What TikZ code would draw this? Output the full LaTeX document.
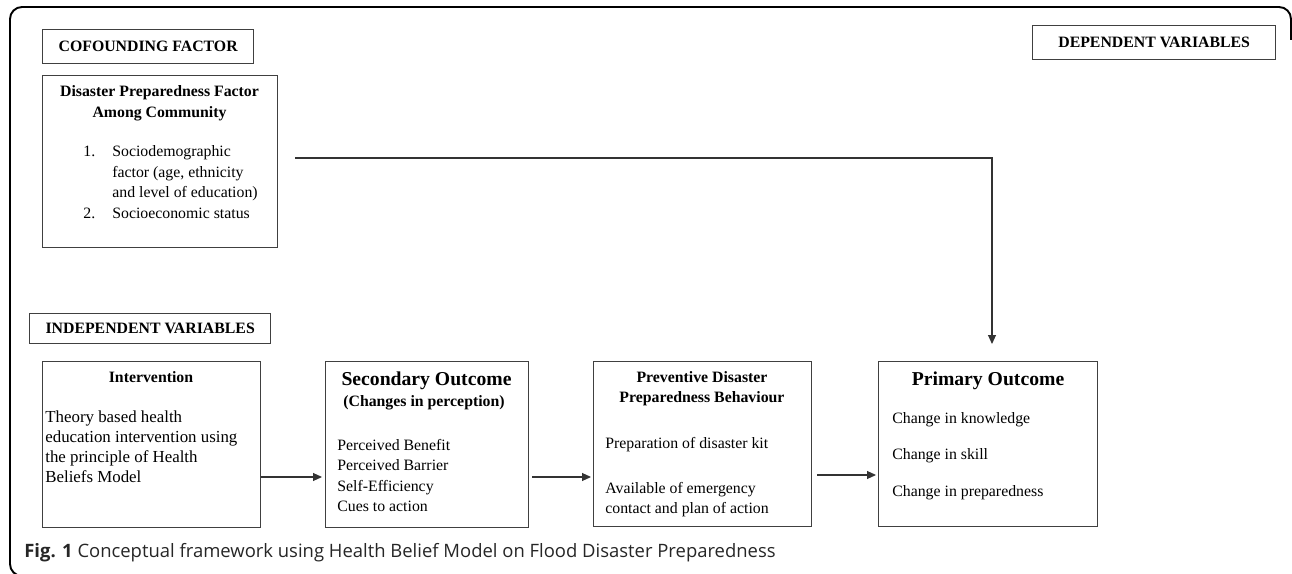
\documentclass[tikz,border=0pt]{standalone}
\usepackage{fontspec}
\setmainfont{Liberation Serif}
\newfontfamily\captionfont{Open Sans}
\usetikzlibrary{arrows.meta}

% stacked lines whose base is the first line
\newcommand{\leftlines}[1]{\begin{tabular}[t]{@{}l@{}}#1\end{tabular}}
\newcommand{\centerlines}[1]{\begin{tabular}[t]{@{}c@{}}#1\end{tabular}}

\tikzset{
  frame/.style={draw=black, line width=1.1pt, rounded corners=0.24cm},
  header/.style={draw=black!75, line width=0.8pt, anchor=north west, inner sep=0pt, font=\fontsize{9}{11}\selectfont\bfseries},
  block/.style={draw=black!75, line width=0.8pt, anchor=north west, inner sep=0pt},
  title/.style={anchor=base, inner sep=0pt, font=\fontsize{9}{11.95}\selectfont\bfseries},
  bigtitle/.style={anchor=base, inner sep=0pt, font=\fontsize{11.2}{13}\selectfont\bfseries},
  body/.style={anchor=base west, inner sep=0pt, font=\fontsize{9}{11.5}\selectfont},
  flow/.style={-{Triangle[length=0.18cm,width=0.16cm]}, line width=0.6pt, draw=black!80},
}

\begin{document}
\begin{tikzpicture}[x=0.02cm, y=-0.02cm]
  \useasboundingbox (0,0) rectangle (1292,574);
  \clip (0,0) rectangle (1292,574);
  \draw[frame] (1291,40) -- (1291,7) -- (10,7) -- (10,576) -- (40,576);

  % header boxes
  \node[header, minimum width=4.22cm, minimum height=0.68cm] (cofound) at (42,29) {COFOUNDING FACTOR};
  \node[header, minimum width=4.86cm, minimum height=0.68cm] (dependent) at (1032,25) {DEPENDENT VARIABLES};
  \node[header, minimum width=4.82cm, minimum height=0.6cm] (independent) at (29,313) {INDEPENDENT VARIABLES};

  % blocks
  \node[block, minimum width=4.7cm, minimum height=3.44cm] (community) at (42,75) {};
  \node[block, minimum width=4.36cm, minimum height=3.32cm] (intervention) at (42,361) {};
  \node[block, minimum width=4.06cm, minimum height=3.32cm] (secondary) at (325,361) {};
  \node[block, minimum width=4.36cm, minimum height=3.3cm] (preventive) at (593,361) {};
  \node[block, minimum width=4.38cm, minimum height=3.3cm] (primary) at (878,361) {};

  % block texts
  \node[title] (communitytitle) at (159.5,97) {\centerlines{Disaster Preparedness Factor\\Among Community}};
  \node[body, font=\fontsize{9}{11.6}\selectfont] (communitylist) at (83,157) {\leftlines{\makebox[0.58cm][l]{1.}Sociodemographic\\\hspace*{0.58cm}factor (age, ethnicity\\\hspace*{0.58cm}and level of education)\\\makebox[0.58cm][l]{2.}Socioeconomic status}};

  \node[title] (interventiontitle) at (151,382) {Intervention};
  \node[body, font=\fontsize{9.6}{11.4}\selectfont] (interventiontext) at (45,422) {\leftlines{Theory based health\\education intervention using\\the principle of Health\\Beliefs Model}};

  \node[bigtitle] (secondarytitle) at (426.5,385) {Secondary Outcome};
  \node[title] (secondarysub) at (424,406) {(Changes in perception)};
  \node[body, font=\fontsize{9}{11.7}\selectfont] (secondarylist) at (337,450) {\leftlines{Perceived Benefit\\Perceived Barrier\\Self-Efficiency\\Cues to action}};

  \node[title] (preventivetitle) at (702,382) {\centerlines{Preventive Disaster\\Preparedness Behaviour}};
  \node[body] (preventivetext) at (605,448) {\leftlines{Preparation of disaster kit\\[14.2pt]Available of emergency\\contact and plan of action}};

  \node[bigtitle] (primarytitle) at (988,385) {Primary Outcome};
  \node[body, font=\fontsize{9}{21}\selectfont] (primarylist) at (892,423) {\leftlines{Change in knowledge\\Change in skill\\Change in preparedness}};

  % caption
  \node[anchor=base west, inner sep=0pt, font=\captionfont\fontsize{10.5}{12}\selectfont, text=black!85] (caption) at (24,557) {\textbf{Fig. 1} Conceptual framework using Health Belief Model on Flood Disaster Preparedness};

  % connectors
  \coordinate (flowrow) at (0,477);
  \coordinate (flowrowb) at (0,475);
  \coordinate (drop) at (992,158);
  \draw[flow, shorten >=0.06cm] (intervention.east |- flowrow) -- (secondary.west |- flowrow);
  \draw[flow, shorten <=0.06cm, shorten >=0.04cm] (secondary.east |- flowrow) -- (preventive.west |- flowrow);
  \draw[flow, shorten <=0.1cm, shorten >=0.04cm] (preventive.east |- flowrowb) -- (primary.west |- flowrowb);
  \draw[flow, shorten <=0.34cm, shorten >=0.34cm] (community.east |- drop) -- (drop) -- (drop |- primary.north);
\end{tikzpicture}
\end{document}
